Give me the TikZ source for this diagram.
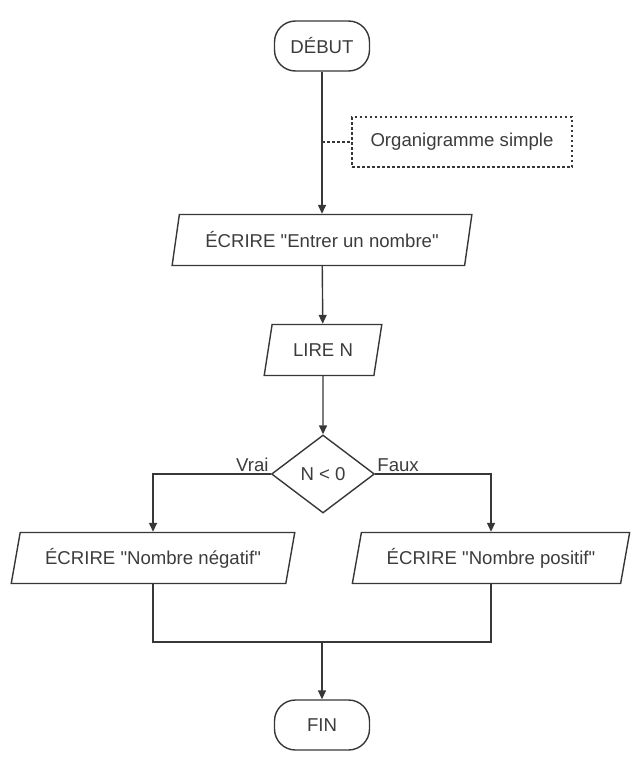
\documentclass[tikz,border=0pt]{standalone}
\usepackage{fontspec}
\newfontfamily\lsans{Liberation Sans}
\usetikzlibrary{shapes.geometric,arrows.meta}
\definecolor{ink}{RGB}{55,55,55}
\definecolor{txt}{RGB}{60,60,60}
\tikzset{
  fnt/.style={font=\lsans\fontsize{18.6}{22}\selectfont},
  base/.style={draw=ink, line width=1.4pt, text=txt, fnt, inner sep=0pt},
  term/.style={base, rectangle, rounded corners=21pt, minimum width=95, minimum height=50},
  io/.style={base, trapezium, trapezium left angle=70, trapezium right angle=110, trapezium stretches=true, minimum height=51},
  dec/.style={base, diamond, minimum width=103, minimum height=78},
  note/.style={draw=ink, line width=1.2pt, dash pattern=on 2.5pt off 2.5pt, text=txt, fnt, minimum width=220, minimum height=50, inner sep=0pt},
  flow/.style={draw=ink, line width=1.4pt, -{Triangle[length=9pt,width=8pt]}},
  plain/.style={draw=ink, line width=1.4pt},
  lbl/.style={text=txt, fnt, inner sep=1pt}
}
\begin{document}
\begin{tikzpicture}[x=1pt,y=-1pt]
\useasboundingbox (0,0) rectangle (642,768);
\node[term] (debut) at (322,46) {DÉBUT};
\node[note] (com) at (462,142) {Organigramme simple};
\coordinate (c1) at (322,142);
\node[io, minimum width=300] (p1) at (322,240) {ÉCRIRE "Entrer un nombre"};
\node[io, minimum width=118] (lire) at (323,350) {LIRE N};
\node[dec] (d) at (323,474) {N < 0};
\node[io, minimum width=284] (neg) at (153,558) {ÉCRIRE "Nombre négatif"};
\node[io, minimum width=278] (pos) at (491,558) {ÉCRIRE "Nombre positif"};
\node[term] (fin) at (322,725) {FIN};
\coordinate (j) at (322,642);

\draw[flow] (debut) -- (p1);
\draw[plain, dash pattern=on 2.5pt off 2.5pt, line width=1.2pt] (c1) -- (com);
\draw[flow] (p1) -- (lire);
\draw[flow] (lire) -- (d);
\draw[flow] (d.west) -| (neg.north);
\draw[flow] (d.east) -| (pos.north);
\node[lbl, anchor=south east] (vrai) at ([xshift=-1pt,yshift=1pt]d.west) {Vrai};
\node[lbl, anchor=south west] (faux) at ([xshift=1pt,yshift=1pt]d.east) {Faux};
\draw[plain] (neg.south) |- (j) -| (pos.south);
\draw[flow] (j) -- (fin);
\end{tikzpicture}
\end{document}
